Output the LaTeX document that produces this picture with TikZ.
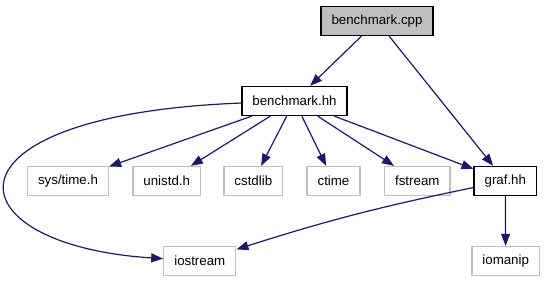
\documentclass[tikz,border=0pt]{standalone}
\usepackage{fontspec}
\setmainfont{Liberation Sans}
\usetikzlibrary{arrows.meta}

\definecolor{edgeblue}{RGB}{25,25,112}
\definecolor{boxgrey}{RGB}{191,191,191}

\tikzset{
  file/.style={draw=black, line width=1.3pt, minimum height=29pt, inner xsep=10.5pt,
    inner ysep=0pt, font=\fontsize{13.3}{16}\selectfont},
  mainfile/.style={file, fill=boxgrey},
  sysfile/.style={file, draw=boxgrey},
  incl/.style={draw=edgeblue, line width=1.2pt, -{Triangle[length=12pt,width=9pt]}},
}

\begin{document}
\begin{tikzpicture}[x=1pt, y=-1pt]
  \useasboundingbox (0,0) rectangle (545,283);

  % project files
  \node[mainfile] (cpp)   at (377,21)    {benchmark.cpp};
  \node[file]     (bench) at (294.5,101) {benchmark.hh};
  \node[file]     (graf)  at (505.3,181) {graf.hh};

  % system headers
  \node[sysfile] (systime)  at (68,181)    {sys/time.h};
  \node[sysfile] (unistd)   at (166.7,181) {unistd.h};
  \node[sysfile] (cstdlib)  at (253.3,181) {cstdlib};
  \node[sysfile] (ctime)    at (333.5,181) {ctime};
  \node[sysfile] (fstream)  at (417.3,181) {fstream};
  \node[sysfile] (iostream) at (199.8,261) {iostream};
  \node[sysfile] (iomanip)  at (505.7,261) {iomanip};

  % includes
  \draw[incl] (cpp) -- (bench);
  \draw[incl] (cpp) -- (graf);
  \foreach \h in {systime,unistd,cstdlib,ctime,fstream,graf}
    \draw[incl] (bench) -- (\h);
  \draw[incl] (bench) .. controls (-70,115) and (-50,245) .. (iostream);
  \draw[incl] (graf) to[bend right=3] (iostream);
  \draw[incl] (graf) -- (iomanip);
\end{tikzpicture}
\end{document}
